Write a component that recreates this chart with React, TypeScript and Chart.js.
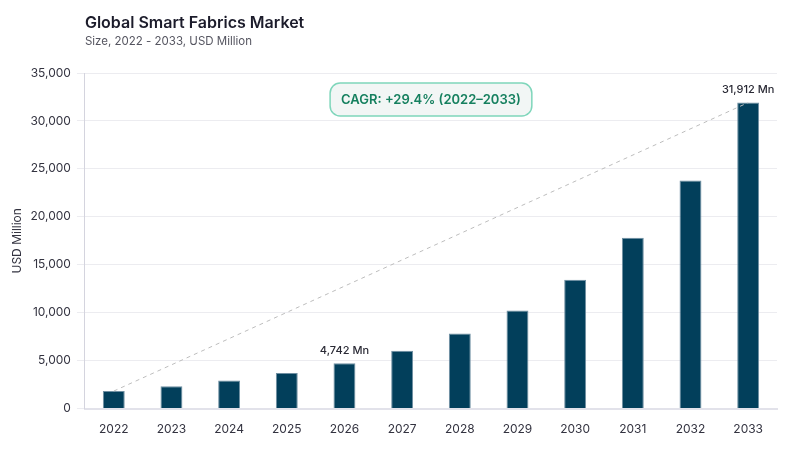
import React, { useEffect, useRef } from "react";
import { Chart, registerables } from "chart.js";

Chart.register(...registerables);

const years = ["2022", "2023", "2024", "2025", "2026", "2027", "2028", "2029", "2030", "2031", "2032", "2033"];
const marketSize = [1830, 2330, 2920, 3710, 4742, 6040, 7820, 10220, 13450, 17830, 23800, 31912];
const labeledYears = ["2026", "2033"];
const yTicks = [0, 5000, 10000, 15000, 20000, 25000, 30000, 35000];
const titleText = "Global Smart Fabrics Market";
const subtitleText = "Size, 2022 - 2033, USD Million";
const yAxisTitle = "USD Million";
const cagrText = "CAGR: +29.4% (2022–2033)";

const FONT = "Inter, 'DejaVu Sans', sans-serif";

export default function App() {
  const ref = useRef<HTMLCanvasElement | null>(null);

  useEffect(() => {
    if (!ref.current) return;
    const trend = marketSize.map((v, i) => (i === 0 || i === marketSize.length - 1 ? v : null));

    const overlay = {
      id: "overlay",
      afterDraw(chart: any) {
        const ctx = chart.ctx;
        const area = chart.chartArea;
        ctx.save();
        // title
        ctx.textAlign = "left";
        ctx.textBaseline = "alphabetic";
        ctx.fillStyle = "#1c1c2b";
        ctx.font = `600 16px ${FONT}`;
        ctx.fillText(titleText, area.left, 28);
        ctx.fillStyle = "#555560";
        ctx.font = `400 11.5px ${FONT}`;
        ctx.fillText(subtitleText, area.left, 45);

        // value labels
        const meta = chart.getDatasetMeta(0);
        ctx.fillStyle = "#2a2a35";
        ctx.font = `500 11px ${FONT}`;
        ctx.textAlign = "center";
        ctx.textBaseline = "bottom";
        labeledYears.forEach((yr) => {
          const i = years.indexOf(yr);
          const el = meta.data[i];
          if (!el) return;
          ctx.fillText(marketSize[i].toLocaleString("en-US") + " Mn", el.x, el.y - 7);
        });

        // CAGR box
        ctx.font = `600 13px ${FONT}`;
        const tw = ctx.measureText(cagrText).width;
        const w = tw + 22;
        const h = 33;
        const cx = (area.left + area.right) / 2;
        const x0 = cx - w / 2;
        const y0 = area.top + 10;
        ctx.beginPath();
        (ctx as any).roundRect(x0, y0, w, h, 10);
        ctx.fillStyle = "#f2f6f5";
        ctx.fill();
        ctx.lineWidth = 1.5;
        ctx.strokeStyle = "#7fd6bb";
        ctx.stroke();
        ctx.fillStyle = "#16805f";
        ctx.textAlign = "center";
        ctx.textBaseline = "middle";
        ctx.fillText(cagrText, cx, y0 + h / 2 + 1);
        ctx.restore();
      },
    };

    const chart = new Chart(ref.current, {
      type: "bar",
      data: {
        labels: years,
        datasets: [
          {
            type: "bar",
            data: marketSize,
            backgroundColor: "#023f5b",
            borderColor: "#6f8fa2",
            borderWidth: 1,
            barPercentage: 0.76,
            categoryPercentage: 0.5,
            order: 2,
          } as any,
          {
            type: "line",
            data: trend,
            spanGaps: true,
            borderColor: "#bdbdbd",
            borderWidth: 1,
            borderDash: [4, 4],
            pointRadius: 0,
            fill: false,
            order: 1,
          } as any,
        ],
      },
      options: {
        responsive: false,
        animation: false,
        devicePixelRatio: 1,
        layout: { padding: { top: 73, right: 23, bottom: 7, left: 10 } },
        plugins: {
          legend: { display: false },
          tooltip: { enabled: false },
          title: { display: false },
        },
        scales: {
          x: {
            grid: { display: false },
            border: { display: true, color: "#e2e2ea", width: 2 },
            ticks: { color: "#333340", font: { family: FONT, size: 12 }, padding: 6 },
          },
          y: {
            min: 0,
            max: 35000,
            afterBuildTicks: (axis: any) => {
              axis.ticks = yTicks.map((v) => ({ value: v }));
            },
            grid: { color: "#ececf0", tickLength: 8, drawTicks: true },
            border: { display: true, color: "#d4d4de", width: 1 },
            ticks: {
              color: "#333340",
              font: { family: FONT, size: 12 },
              padding: 6,
              callback: (v: any) => Number(v).toLocaleString("en-US"),
            },
            title: {
              display: true,
              text: yAxisTitle,
              color: "#333340",
              font: { family: FONT, size: 12 },
              padding: { top: 0, bottom: 0 },
            },
          },
        },
      },
      plugins: [overlay],
    } as any);

    return () => chart.destroy();
  }, []);

  return (
    <div style={{ position: "fixed", left: 0, top: 0, width: 800, height: 450, background: "#fff" }}>
      <canvas ref={ref} width={800} height={450} />
    </div>
  );
}
